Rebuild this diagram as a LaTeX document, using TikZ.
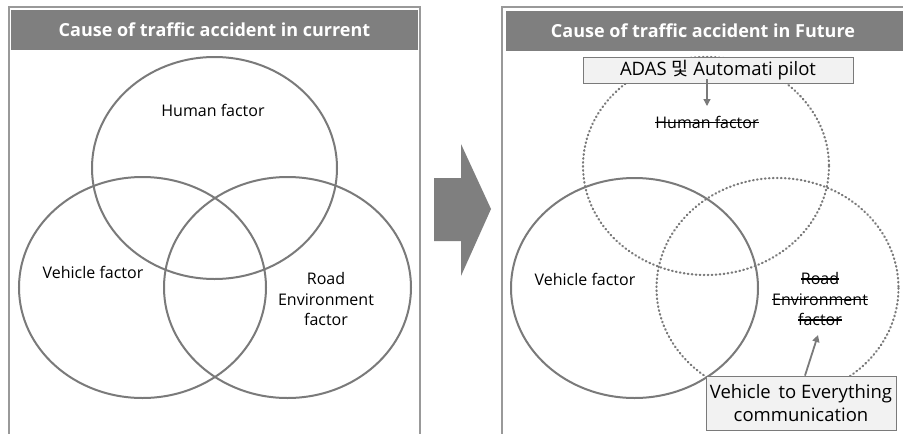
\documentclass[tikz,border=0pt]{standalone}
\usepackage{fontspec}
\setmainfont{Open Sans}
\newfontfamily\krfont{Noto Sans CJK KR}
\usetikzlibrary{arrows.meta}
\definecolor{hdr}{HTML}{7F7F7F}
\definecolor{ln}{HTML}{7A7A7A}
\definecolor{frm}{HTML}{999999}
\definecolor{boxfill}{HTML}{F2F2F2}
% struck-through text: a thin rule laid over the word
\newcommand\strk[1]{\begingroup\setbox0\hbox{#1}\rlap{\rule[0.3em]{\wd0}{0.085em}}\box0\endgroup}
\tikzset{
  venn/.style={draw=ln, line width=2pt},
  vennd/.style={draw=ln, line width=2.2pt, dash pattern=on 0.7pt off 3.3pt, line cap=round},
  lbl/.style={font=\fontsize{16}{20.5}\selectfont, align=center, inner sep=0pt},
  header/.style={fill=hdr, draw=none},
  htext/.style={text=white, font=\fontsize{18}{20}\selectfont\bfseries, inner sep=0pt},
  note/.style={draw=ln, fill=boxfill, line width=0.8pt, font=\fontsize{18.5}{22.5}\selectfont, align=center},
  pointer/.style={draw=ln, line width=1.8pt, -{Triangle[length=7pt,width=7pt]}},
}
\begin{document}
\begin{tikzpicture}[x=1pt,y=-1pt]
\useasboundingbox (0,0) rectangle (903,434);
\fill[white] (0,0) rectangle (903,434);

% panel frames
\draw[frm, line width=1.2pt] (9,436) -- (9,7) -- (420,7) -- (420,436);
\draw[frm, line width=1.2pt] (502,436) -- (502,7) -- (906,7);

% headers
\fill[header] (11,10) rectangle (418,50);
\node[htext] (hl) at (214.5,30) {Cause of traffic accident in current};
\fill[header] (506,11) rectangle (906,51);
\node[htext] (hr) at (703,31) {Cause of traffic accident in Future};

% current causes
\draw[venn] (214.5,168) ellipse [x radius=122.5, y radius=111];
\draw[venn] (142.5,287.5) ellipse [x radius=123.5, y radius=110.5];
\draw[venn] (287.5,287.5) ellipse [x radius=123.5, y radius=110.5];
\node[lbl] (human) at (213,110) {Human factor};
\node[lbl] (vehicle) at (93,272) {Vehicle factor};
\node[lbl] (road) at (326,299) {Road\\Environment\\factor};

% transition arrow
\fill[hdr] (434,178) -- (461,178) -- (461,144) -- (491,209) -- (461,276) -- (461,241) -- (434,241) -- cycle;

% future causes
\draw[vennd] (706,166) ellipse [x radius=123, y radius=109];
\draw[venn] (634.5,288) ellipse [x radius=123.5, y radius=110];
\draw[vennd] (777.5,288) ellipse [x radius=121, y radius=110];
\node[lbl] (fhuman) at (707,122) {\strk{Human factor}};
\node[lbl] (fvehicle) at (585,279) {Vehicle factor};
\node[lbl] (froad) at (820,299) {\strk{Road}\\\strk{Environment}\\\strk{factor}};

\node[note, minimum width=270pt, minimum height=26pt, inner sep=0pt] (adas) at (718,70) {ADAS {\krfont 및} Automati pilot};
\node[note, minimum width=190pt, minimum height=54pt, inner sep=0pt] (v2x) at (801,403) {Vehicle \,to Everything\\communication};

\coordinate (htip) at (707,106);
\coordinate (rtip) at (818,335);
\draw[pointer, line width=1.3pt] ([yshift=4pt]adas.south -| htip) -- (htip);
\draw[pointer] ([xshift=4pt]v2x.north) -- (rtip);
\end{tikzpicture}
\end{document}
